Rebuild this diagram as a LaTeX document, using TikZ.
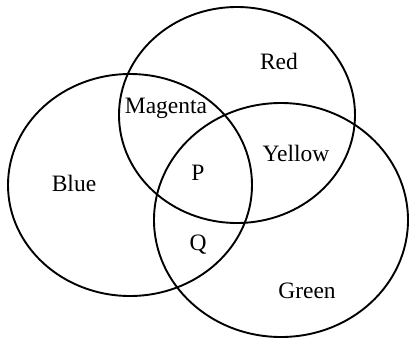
\documentclass[tikz,border=0pt]{standalone}
\usepackage{fontspec}
\setmainfont{Liberation Serif}
\usepackage{tikz}
\usetikzlibrary{positioning}

\begin{document}
\begin{tikzpicture}[
  x=1pt, y=-1pt,
  set/.style={draw=black, line width=1.9pt},
  lbl/.style={font=\fontsize{23.5}{26}\selectfont, inner sep=0pt}
]
  \useasboundingbox (0,0) rectangle (410,338);
  % the three colour sets
  \draw[set] (130,185) ellipse[x radius=122, y radius=111];
  \draw[set] (237,115) ellipse[x radius=118, y radius=108];
  \draw[set] (281,220) ellipse[x radius=127, y radius=117];

  \node[lbl] (red) at (279,61) {Red};
  \node[lbl] (magenta) at (166,108) {Magenta};
  \node[lbl] (yellow) at (296,153) {Yellow};
  \node[lbl] (blue) at (74,183) {Blue};
  \node[lbl] (p) at (198,173) {P};
  \node[lbl] (q) at (198,245) {Q};
  \node[lbl] (green) at (307,291) {Green};
\end{tikzpicture}
\end{document}
